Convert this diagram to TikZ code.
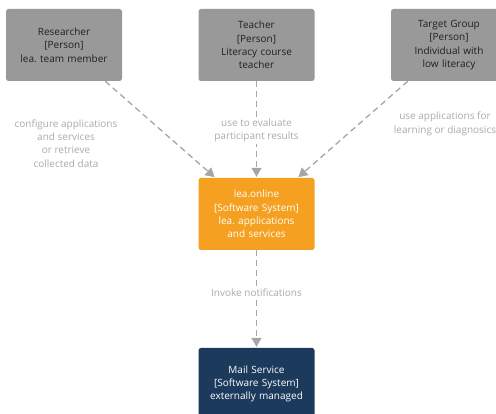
\documentclass[tikz,border=0pt]{standalone}
\usepackage{fontspec}
\setmainfont{Open Sans}
\frenchspacing
\usetikzlibrary{arrows.meta}
\definecolor{persongray}{HTML}{999999}
\definecolor{persontext}{HTML}{202020}
\definecolor{leaorange}{HTML}{F5A020}
\definecolor{mailblue}{HTML}{1B3A5C}
\definecolor{edgegray}{HTML}{A6A6A6}
\definecolor{labelgray}{HTML}{ABABAB}
\begin{document}
\begin{tikzpicture}[x=1pt,y=-1pt,
  box/.style={rectangle, rounded corners=2.5pt, minimum width=116pt, minimum height=72pt,
    inner sep=2pt, align=center, font=\fontsize{10}{13.3}\selectfont, text width=110pt},
  personbox/.style={box, fill=persongray, text=persontext},
  sysbox/.style={box, fill=leaorange, text=white},
  extbox/.style={box, fill=mailblue, text=white},
  rel/.style={draw=edgegray, line width=1.3pt, dash pattern=on 6pt off 4pt,
    -{Triangle[length=9pt,width=10pt,fill=edgegray]}, shorten >=1pt},
  rellabel/.style={text=labelgray, align=center, font=\fontsize{10}{13.3}\selectfont, fill=white, inner sep=2pt}
]
\useasboundingbox (0,0) rectangle (496,414);
\clip (0,0) rectangle (496,414);
\node[personbox] (res) at (64,45) {Researcher\\{[Person]}\\lea. team member};
\node[personbox] (tea) at (256.5,45) {Teacher\\{[Person]}\\Literacy course\\teacher};
\node[personbox] (tg) at (449,45) {Target Group\\{[Person]}\\Individual with\\low literacy};
\node[sysbox] (lea) at (256.5,214) {lea.online\\{[Software System]}\\lea. applications\\and services};
\node[extbox] (mail) at (256.5,384) {Mail Service\\{[Software System]}\\externally managed};

\draw[rel] (res) -- (lea);
\draw[rel] (tea) -- (lea);
\draw[rel] (tg) -- (lea);
\draw[rel] (lea) -- (mail);

\node[rellabel] (l1) at (66,143.5) {configure applications\\and services\\or retrieve\\collected data};
\node[rellabel] (l2) at (256.5,130.5) {use to evaluate\\participant results};
\node[rellabel] (l3) at (445,124) {use applications for\\learning or diagnosics};
\node[rellabel] (l4) at (256.5,293) {Invoke notifications};
\end{tikzpicture}
\end{document}
